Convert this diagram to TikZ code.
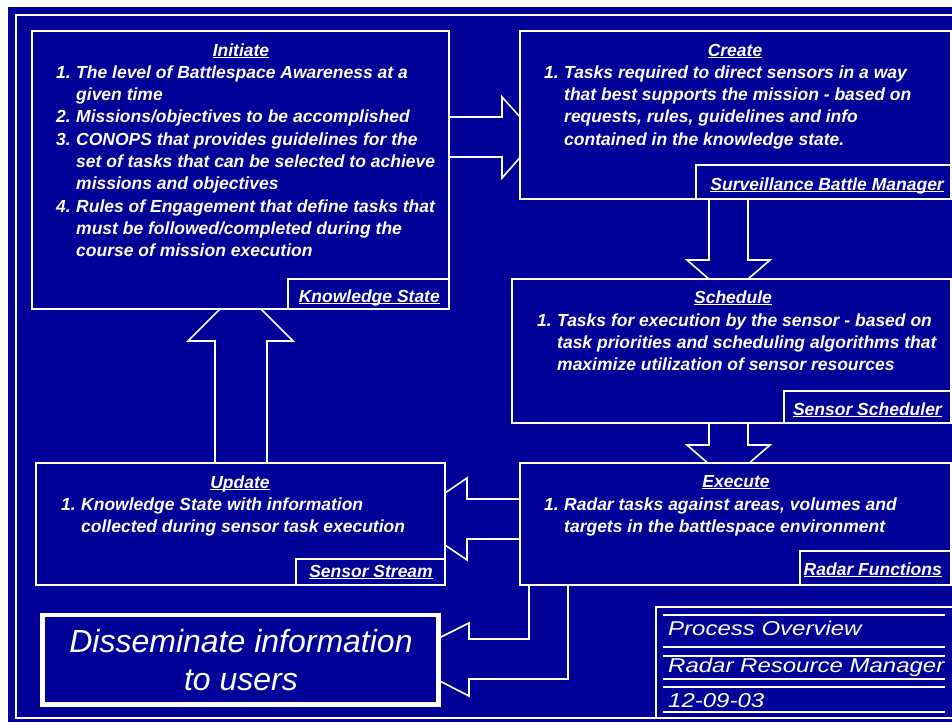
\documentclass[tikz,border=0pt]{standalone}
\usepackage{fontspec}
\setmainfont{Liberation Sans}
\newfontfamily\stretchfont{Liberation Sans}[FakeStretch=1.2]
\usetikzlibrary{fit}
\definecolor{navy}{RGB}{0,0,153}
\newcommand{\myul}[1]{\underline{\smash{#1}}}
\newcommand{\itm}[1]{\makebox[20pt][l]{#1}}
\newcommand{\cnt}{\hspace*{20pt}}
\begin{document}
\begin{tikzpicture}[x=1pt,y=-1pt,
  box/.style={draw=white, fill=navy, line width=1.6pt, inner sep=0pt},
  thickbox/.style={draw=white, fill=navy, line width=4.5pt, inner sep=0pt},
  blockarrow/.style={draw=white, fill=navy, line width=1.6pt, line join=miter},
  frameline/.style={draw=white, line width=1.6pt},
  body/.style={text=white, inner sep=0pt, font=\fontsize{17.5}{22}\selectfont\bfseries\itshape},
  big/.style={text=white, inner sep=0pt, font=\fontsize{32}{38}\selectfont\itshape},
  tblock/.style={text=white, inner sep=0pt, anchor=base west, font=\fontsize{20}{24}\selectfont\stretchfont\itshape}
]
\useasboundingbox (0,0) rectangle (952,721);
\clip (0,0) rectangle (952,721);
% background
\fill[white] (0,0) rectangle (952,721);
\fill[navy] (8,7) rectangle (960,730);
\draw[frameline] (16,15) rectangle (970,718);

% block arrows (tips hidden under boxes)
\draw[blockarrow] (440,117) -- (502,117) -- (502,97) -- (538,137) -- (502,178) -- (502,157) -- (440,157) -- cycle;
\draw[blockarrow] (709,190) -- (709,260) -- (687,260) -- (728.5,296) -- (770,260) -- (748,260) -- (748,190) -- cycle;
\draw[blockarrow] (709,415) -- (709,445) -- (687,445) -- (728.5,481) -- (770,445) -- (748,445) -- (748,415) -- cycle;
\draw[blockarrow] (530,499) -- (467,499) -- (467,478) -- (407,519) -- (467,560) -- (467,539) -- (530,539) -- cycle;
\draw[blockarrow] (215,470) -- (215,341) -- (188,341) -- (240.5,288.5) -- (293,341) -- (267,341) -- (267,470) -- cycle;
\draw[blockarrow] (529,578) -- (529,639) -- (469,639) -- (469,623) -- (397,659) -- (469,696) -- (469,679) -- (568,679) -- (568,578) -- cycle;

% boxes
\node[box, fit={(32,31) (449,309)}] (init) {};
\node[box, fit={(288,279) (449,309)}] (initsub) {};
\node[box, fit={(520,31) (951,199)}] (create) {};
\node[box, fit={(696,165) (951,199)}] (createsub) {};
\node[box, fit={(512,279) (951,423)}] (sched) {};
\node[box, fit={(784,391) (951,423)}] (schedsub) {};
\node[box, fit={(520,463) (951,585)}] (exec) {};
\node[box, fit={(800,551) (951,585)}] (execsub) {};
\node[box, fit={(36,463) (445,585)}] (upd) {};
\node[box, fit={(296,559) (445,585)}] (updsub) {};
\node[thickbox, fit={(42.5,615) (438.5,704.5)}] (diss) {};

% title block
\draw[frameline] (656,718) -- (656,607) -- (970,607);
\foreach \yy in {615,647,656,679,687,712}
  \draw[frameline] (663,\yy) -- (945,\yy);

% titles
\node[body, anchor=base] (tinit) at (241,56) {\myul{Initiate}};
\node[body, anchor=base] (tcreate) at (735,56) {\myul{Create}};
\node[body, anchor=base] (tsched) at (733,303) {\myul{Schedule}};
\node[body, anchor=base] (texec) at (736,487) {\myul{Execute}};
\node[body, anchor=base] (tupd) at (240,488) {\myul{Update}};

% bodies
\node[body, anchor=base west] (binit) at (56,78) {\begin{tabular}[t]{@{}l@{}}
\itm{1.}The level of Battlespace Awareness at a\\
\cnt given time\\
\itm{2.}Missions/objectives to be accomplished\\[1.5pt]
\itm{3.}CONOPS that provides guidelines for the\\
\cnt set of tasks that can be selected to achieve\\
\cnt missions and objectives\\[0.5pt]
\itm{4.}Rules of Engagement that define tasks that\\
\cnt must be followed/completed during the\\
\cnt course of mission execution
\end{tabular}};
\node[body, anchor=base west] (bcreate) at (544,78) {\begin{tabular}[t]{@{}l@{}}
\itm{1.}Tasks required to direct sensors in a way\\
\cnt that best supports the mission - based on\\
\cnt requests, rules, guidelines and info\\[1.5pt]
\cnt contained in the knowledge state.
\end{tabular}};
\node[body, anchor=base west] (bsched) at (537,326) {\begin{tabular}[t]{@{}l@{}}
\itm{1.}Tasks for execution by the sensor - based on\\
\cnt task priorities and scheduling algorithms that\\
\cnt maximize utilization of sensor resources
\end{tabular}};
\node[body, anchor=base west] (bexec) at (544,510) {\begin{tabular}[t]{@{}l@{}}
\itm{1.}Radar tasks against areas, volumes and\\
\cnt targets in the battlespace environment
\end{tabular}};
\node[body, anchor=base west] (bupd) at (61,510) {\begin{tabular}[t]{@{}l@{}}
\itm{1.}Knowledge State with information\\
\cnt collected during sensor task execution
\end{tabular}};

% sub labels
\node[body, anchor=base east] (linit) at (440,302) {\myul{Knowledge State}};
\node[body, anchor=base east] (lcreate) at (944,190) {\myul{Surveillance Battle Manager}};
\node[body, anchor=base east] (lsched) at (942,415) {\myul{Sensor Scheduler}};
\node[body, anchor=base east] (lexec) at (942,575) {\myul{Radar Functions}};
\node[body, anchor=base east] (lupd) at (433,577) {\myul{Sensor Stream}};

% disseminate
\node[big, anchor=base] (tdiss) at (241,652) {\begin{tabular}[t]{@{}c@{}}Disseminate information\\ to users\end{tabular}};

% title block text
\node[tblock] (tb1) at (668,635) {Process Overview};
\node[tblock] (tb2) at (668,672) {Radar Resource Manager};
\node[tblock] (tb3) at (668,707) {12-09-03};
\end{tikzpicture}
\end{document}
